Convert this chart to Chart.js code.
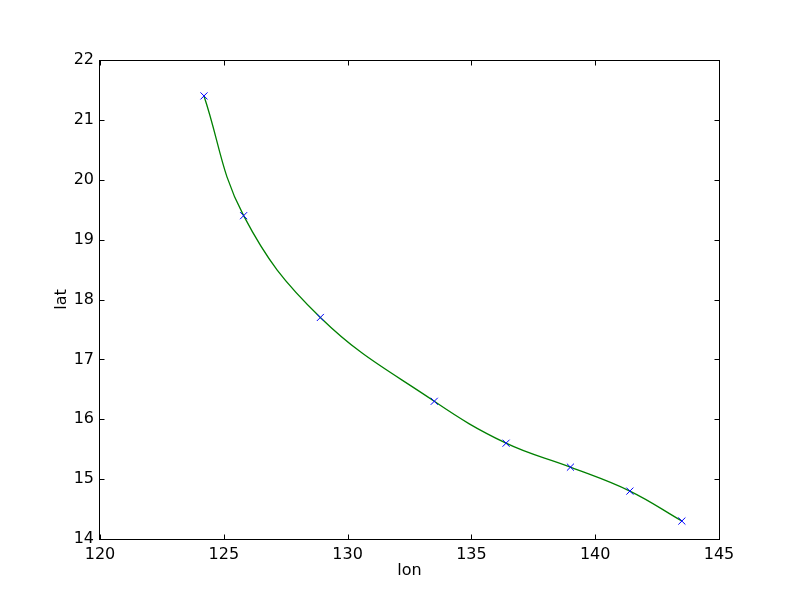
<!DOCTYPE html>
<html>
<head>
<meta charset="utf-8">
<script src="https://cdn.jsdelivr.net/npm/chart.js@4"></script>
<style>
  body { margin: 0; background: #fff; }
  canvas { display: block; }
</style>
</head>
<body>
<canvas id="trackChart" width="800" height="600"></canvas>
<script>
  // track positions
  const lon = [124.2, 125.8, 128.9, 133.5, 136.4, 139.0, 141.4, 143.5];
  const lat = [21.4, 19.4, 17.7, 16.3, 15.6, 15.2, 14.8, 14.3];
  const xTicks = [120, 125, 130, 135, 140, 145];
  const yTicks = [14, 15, 16, 17, 18, 19, 20, 21, 22];

  const points = lon.map((x, i) => ({ x: x, y: lat[i] }));

  Chart.defaults.font.family = 'DejaVu Sans';
  Chart.defaults.font.size = 16;
  Chart.defaults.color = '#000';

  // matplotlib-style frame with ticks pointing inward
  const frame = {
    id: 'frame',
    afterDraw(chart) {
      const ctx = chart.ctx;
      const a = chart.chartArea;
      const xs = chart.scales.x, ys = chart.scales.y;
      const len = 5;
      const L = Math.round(a.left) - 0.5, R = Math.round(a.right) + 0.5;
      const T = Math.round(a.top) + 0.5, B = Math.round(a.bottom) + 0.5;
      ctx.save();
      ctx.strokeStyle = '#000';
      ctx.lineWidth = 1;
      ctx.strokeRect(L, T, R - L, B - T);
      ctx.beginPath();
      xTicks.forEach(v => {
        const px = Math.min(R, Math.max(L, Math.round(xs.getPixelForValue(v)) + 0.5));
        ctx.moveTo(px, B); ctx.lineTo(px, B - len);
        ctx.moveTo(px, T); ctx.lineTo(px, T + len);
      });
      yTicks.forEach(v => {
        const py = Math.min(B, Math.max(T, Math.round(ys.getPixelForValue(v)) + 0.5));
        ctx.moveTo(L, py); ctx.lineTo(L + len, py);
        ctx.moveTo(R, py); ctx.lineTo(R - len, py);
      });
      ctx.stroke();
      ctx.restore();
    }
  };

  new Chart(document.getElementById('trackChart'), {
    type: 'scatter',
    data: {
      datasets: [
        {
          data: points,
          showLine: false,
          pointStyle: 'crossRot',
          pointRadius: 5,
          pointBorderColor: '#0000ff',
          pointBorderWidth: 1
        },
        {
          data: points,
          showLine: true,
          borderColor: '#008000',
          borderWidth: 1.3,
          tension: 0.4,
          pointRadius: 0
        }
      ]
    },
    options: {
      responsive: false,
      animation: false,
      layout: { padding: { top: 60, right: 81, left: 0, bottom: 0 } },
      plugins: { legend: { display: false }, tooltip: { enabled: false } },
      scales: {
        x: {
          type: 'linear',
          min: 120, max: 145,
          afterFit(s) { s.height = 61; },
          grid: { display: false, drawTicks: false },
          border: { display: false },
          ticks: { stepSize: 5, padding: 6, maxRotation: 0 },
          title: { display: true, text: 'lon', padding: { top: 0, bottom: 20 } }
        },
        y: {
          type: 'linear',
          min: 14, max: 22,
          afterFit(s) { s.width = 100; },
          grid: { display: false, drawTicks: false },
          border: { display: false },
          ticks: { stepSize: 1, padding: 6 },
          title: { display: true, text: 'lat', padding: { top: 52, bottom: 0 } }
        }
      }
    },
    plugins: [frame]
  });
</script>
</body>
</html>
